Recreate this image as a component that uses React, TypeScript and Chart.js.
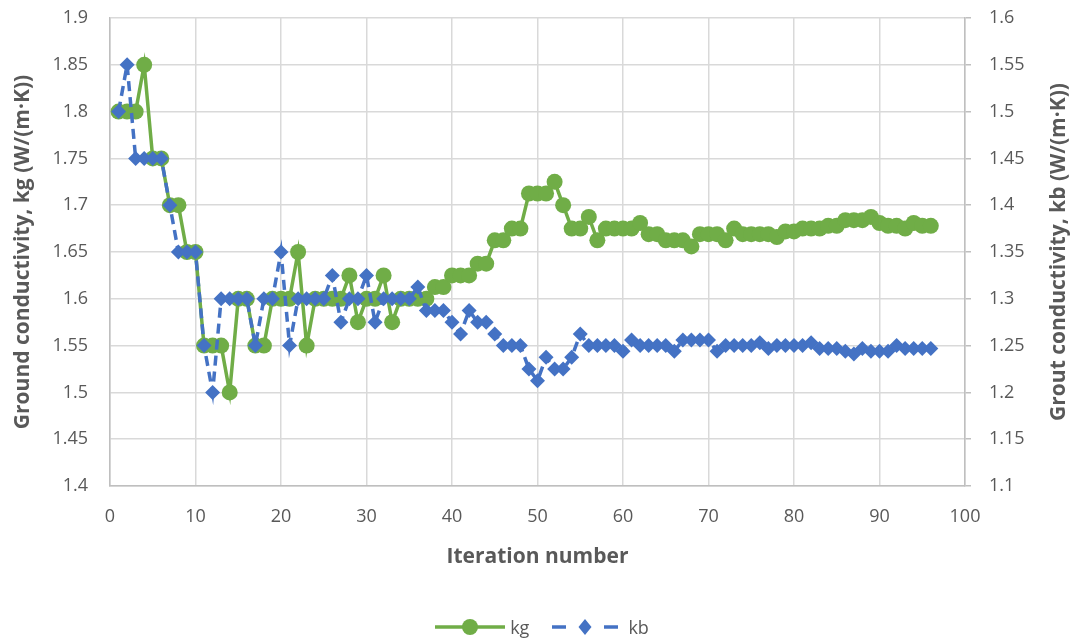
import React, { useEffect, useRef } from "react";
import { Chart, registerables } from "chart.js";

Chart.register(...registerables);

const iterations = [
  1, 2, 3, 4, 5, 6, 7, 8, 9, 10, 11, 12, 13, 14, 15, 16, 17, 18, 19, 20,
  21, 22, 23, 24, 25, 26, 27, 28, 29, 30, 31, 32, 33, 34, 35, 36, 37, 38, 39, 40,
  41, 42, 43, 44, 45, 46, 47, 48, 49, 50, 51, 52, 53, 54, 55, 56, 57, 58, 59, 60,
  61, 62, 63, 64, 65, 66, 67, 68, 69, 70, 71, 72, 73, 74, 75, 76, 77, 78, 79, 80,
  81, 82, 83, 84, 85, 86, 87, 88, 89, 90, 91, 92, 93, 94, 95, 96,
];

const kgValues = [
  1.8, 1.8, 1.8, 1.85, 1.75, 1.75, 1.7, 1.7, 1.65, 1.65,
  1.55, 1.55, 1.55, 1.5, 1.6, 1.6, 1.55, 1.55, 1.6, 1.6,
  1.6, 1.65, 1.55, 1.6, 1.6, 1.6, 1.6, 1.625, 1.575, 1.6,
  1.6, 1.625, 1.575, 1.6, 1.6, 1.6, 1.6, 1.6125, 1.6125, 1.625,
  1.625, 1.625, 1.6375, 1.6375, 1.6625, 1.6625, 1.675, 1.675, 1.7125, 1.7125,
  1.7125, 1.725, 1.7, 1.675, 1.675, 1.6875, 1.6625, 1.675, 1.675, 1.675,
  1.675, 1.681, 1.669, 1.669, 1.6625, 1.6625, 1.6625, 1.656, 1.669, 1.669,
  1.669, 1.6625, 1.675, 1.669, 1.669, 1.669, 1.669, 1.666, 1.672, 1.672,
  1.675, 1.675, 1.675, 1.678, 1.678, 1.684, 1.684, 1.684, 1.6875, 1.681,
  1.678, 1.678, 1.675, 1.681, 1.678, 1.678,
];

const kbValues = [
  1.5, 1.55, 1.45, 1.45, 1.45, 1.45, 1.4, 1.35, 1.35, 1.35,
  1.25, 1.2, 1.3, 1.3, 1.3, 1.3, 1.25, 1.3, 1.3, 1.35,
  1.25, 1.3, 1.3, 1.3, 1.3, 1.325, 1.275, 1.3, 1.3, 1.325,
  1.275, 1.3, 1.3, 1.3, 1.3, 1.3125, 1.2875, 1.2875, 1.2875, 1.275,
  1.2625, 1.2875, 1.275, 1.275, 1.2625, 1.25, 1.25, 1.25, 1.225, 1.2125,
  1.2375, 1.225, 1.225, 1.2375, 1.2625, 1.25, 1.25, 1.25, 1.25, 1.244,
  1.256, 1.25, 1.25, 1.25, 1.25, 1.244, 1.256, 1.256, 1.256, 1.256,
  1.244, 1.25, 1.25, 1.25, 1.25, 1.253, 1.247, 1.25, 1.25, 1.25,
  1.25, 1.253, 1.247, 1.247, 1.247, 1.244, 1.241, 1.247, 1.244, 1.244,
  1.244, 1.25, 1.247, 1.247, 1.247, 1.247,
];

const seriesNames = ["kg", "kb"];
const xTitle = "Iteration number";
const leftTitle = "Ground conductivity, kg (W/(m·K))";
const rightTitle = "Grout conductivity, kb (W/(m·K))";

const GREEN = "#70AD47";
const BLUE = "#4472C4";
const TEXT = "#595959";
const GRID = "#D9D9D9";
const AXIS = "#BFBFBF";
const FONT = "'Open Sans', 'Noto Sans', sans-serif";

const rightTitlePlugin = {
  id: "rightTitle",
  afterDraw(chart: any) {
    const ctx = chart.ctx;
    const scale = chart.scales.y1;
    ctx.save();
    ctx.font = `bold 21px ${FONT}`;
    ctx.fillStyle = TEXT;
    ctx.textAlign = "center";
    ctx.textBaseline = "middle";
    ctx.translate(1059, (scale.top + scale.bottom) / 2);
    ctx.rotate(-Math.PI / 2);
    ctx.fillText(rightTitle, 0, 0);
    ctx.restore();
  },
};

function LegendSample({ kind }: { kind: "kg" | "kb" }) {
  if (kind === "kg") {
    return (
      <svg width={70} height={20} style={{ display: "block" }}>
        <line x1={0} y1={10} x2={70} y2={10} stroke={GREEN} strokeWidth={3.5} />
        <circle cx={35} cy={10} r={8} fill={GREEN} />
      </svg>
    );
  }
  return (
    <svg width={70} height={20} style={{ display: "block" }}>
      <line x1={2} y1={10} x2={16} y2={10} stroke={BLUE} strokeWidth={3.5} />
      <line x1={54} y1={10} x2={68} y2={10} stroke={BLUE} strokeWidth={3.5} />
      <polygon points="35,2 41.5,10 35,18 28.5,10" fill={BLUE} />
    </svg>
  );
}

export default function App() {
  const ref = useRef<HTMLCanvasElement | null>(null);

  useEffect(() => {
    if (!ref.current) return;
    const chart = new Chart(ref.current, {
      type: "line",
      data: {
        datasets: [
          {
            label: seriesNames[0],
            data: iterations.map((x, i) => ({ x, y: kgValues[i] })),
            yAxisID: "y",
            borderColor: GREEN,
            backgroundColor: GREEN,
            borderWidth: 3.5,
            pointStyle: "circle",
            pointRadius: 8,
            pointBorderWidth: 0,
            pointBackgroundColor: GREEN,
            tension: 0,
            order: 0,
          },
          {
            label: seriesNames[1],
            data: iterations.map((x, i) => ({ x, y: kbValues[i] })),
            yAxisID: "y1",
            borderColor: BLUE,
            backgroundColor: BLUE,
            borderWidth: 3.5,
            borderDash: [10, 6],
            pointStyle: "rectRot",
            pointRadius: 7.5,
            pointBorderWidth: 0,
            pointBackgroundColor: BLUE,
            tension: 0,
            order: -1,
          },
        ],
      },
      options: {
        animation: false,
        responsive: true,
        maintainAspectRatio: false,
        layout: { padding: { top: 18, left: 0, right: 0, bottom: 38 } },
        plugins: {
          tooltip: { enabled: false },
          legend: { display: false },
        },
        scales: {
          x: {
            type: "linear",
            min: 0,
            max: 100,
            ticks: {
              stepSize: 10,
              color: TEXT,
              font: { family: FONT, size: 18 },
              padding: 20,
              maxRotation: 0,
            },
            grid: { color: GRID, lineWidth: 1.5, drawTicks: false },
            border: { color: AXIS, width: 1.5 },
            title: {
              display: true,
              text: xTitle,
              color: TEXT,
              font: { family: FONT, size: 21, weight: "bold" },
              padding: { top: 4, bottom: 36 },
            },
            afterFit: (s: any) => {
              s.height = 120;
            },
          },
          y: {
            type: "linear",
            position: "left",
            min: 1.4,
            max: 1.9,
            ticks: {
              stepSize: 0.05,
              color: TEXT,
              font: { family: FONT, size: 18 },
              padding: 22,
              callback: (v: any) => String(Math.round(Number(v) * 100) / 100),
            },
            grid: { color: GRID, lineWidth: 1.5, drawTicks: false },
            border: { color: AXIS, width: 1.5 },
            title: {
              display: true,
              text: leftTitle,
              color: TEXT,
              font: { family: FONT, size: 21, weight: "bold" },
              padding: { top: 10, bottom: 0 },
            },
            afterFit: (s: any) => {
              s.width = 110;
              s.paddingTop = 0;
              s.paddingBottom = 0;
            },
          },
          y1: {
            type: "linear",
            position: "right",
            min: 1.1,
            max: 1.6,
            ticks: {
              stepSize: 0.05,
              color: TEXT,
              font: { family: FONT, size: 18 },
              padding: 18,
              callback: (v: any) => String(Math.round(Number(v) * 100) / 100),
            },
            grid: {
              drawOnChartArea: false,
              drawTicks: true,
              tickLength: 6,
              tickColor: AXIS,
              lineWidth: 1.5,
            },
            border: { color: AXIS, width: 1.5 },
            title: { display: false },
            afterFit: (s: any) => {
              s.width = 113;
              s.paddingTop = 0;
              s.paddingBottom = 0;
            },
          },
        },
      },
      plugins: [rightTitlePlugin],
    } as any);
    return () => chart.destroy();
  }, []);

  const legendText: React.CSSProperties = {
    fontFamily: FONT,
    fontSize: 18,
    color: TEXT,
    lineHeight: "20px",
  };

  return (
    <div style={{ position: "fixed", left: 0, top: 0, width: 1078, height: 644, background: "#fff" }}>
      <canvas ref={ref} />
      <div
        style={{
          position: "absolute",
          left: 0,
          width: 1078,
          top: 616,
          height: 22,
          display: "flex",
          justifyContent: "center",
          alignItems: "center",
        }}
      >
        <div style={{ display: "flex", alignItems: "center", marginLeft: 6 }}>
          <LegendSample kind="kg" />
          <span style={{ ...legendText, marginLeft: 5 }}>{seriesNames[0]}</span>
          <span style={{ width: 21 }} />
          <LegendSample kind="kb" />
          <span style={{ ...legendText, marginLeft: 8 }}>{seriesNames[1]}</span>
        </div>
      </div>
    </div>
  );
}
